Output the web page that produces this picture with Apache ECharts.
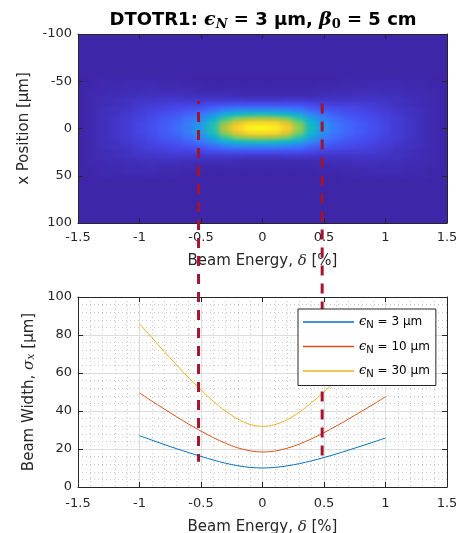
<!DOCTYPE html>
<html><head><meta charset="utf-8">
<script src="https://cdn.jsdelivr.net/npm/echarts/dist/echarts.min.js"></script>
<style>
html,body{margin:0;padding:0;background:#fff;}
#wrap{position:relative;width:459px;height:533px;overflow:hidden;background:#fff;}
#bg{position:absolute;left:78px;top:34px;width:369px;height:189px;background:#3E26A8;}
#heat{position:absolute;left:0;top:0;width:459px;height:533px;filter:url(#soft);clip-path:inset(34px 12px 310px 78px);}
#main{position:absolute;left:0;top:0;width:459px;height:533px;}
</style></head>
<body>
<svg width="0" height="0" style="position:absolute"><defs><filter id="soft" x="0" y="0" width="100%" height="100%" color-interpolation-filters="sRGB"><feGaussianBlur stdDeviation="3 1.5"/></filter></defs></svg>
<div id="wrap"><div id="bg"></div><div id="heat"></div><div id="main"></div></div>
<script>
// ---------- data ----------
const deltaTicks = [-1.5, -1, -0.5, 0, 0.5, 1, 1.5];
const legendNames = ['ϵN = 3 μm', 'ϵN = 10 μm', 'ϵN = 30 μm'];
const deltaLine = [-1,-0.9,-0.8,-0.7,-0.6,-0.5,-0.4,-0.3,-0.2,-0.1,0,0.1,0.2,0.3,0.4,0.5,0.6,0.7,0.8,0.9,1];
const sigma3  = [27.0,24.7,22.4,20.2,18.1,16.1,14.2,12.5,11.2,10.3,10.0,10.3,11.1,12.3,13.8,15.5,17.4,19.4,21.5,23.6,25.8];
const sigma10 = [49.5,45.2,41.1,37.0,33.1,29.4,26.0,23.0,20.6,19.0,18.4,18.9,20.4,22.6,25.4,28.6,32.1,35.8,39.6,43.5,47.5];
const sigma30 = [85.9,78.6,71.4,64.3,57.5,51.1,45.1,39.9,35.7,32.9,31.9,32.8,35.4,39.4,44.4,50.0,56.1,62.6,69.4,76.3,83.3];

// heatmap (image) : columns = beam energy delta, rows = x position
const heatDelta = [-1.5,-1.4,-1.3,-1.2,-1.1,-1,-0.9,-0.8,-0.7,-0.6,-0.5,-0.4,-0.3,-0.2,-0.1,0,0.1,0.2,0.3,0.4,0.5,0.6,0.7,0.8,0.9,1,1.1,1.2,1.3,1.4,1.5];
const heatX = [-50,-45,-40,-35,-30,-25,-20,-15,-10,-5,0,5,10,15,20,25,30,35,40,45,50];
const heatRows = [
 [0,0,1,1,1,1,1,1,1,0,0,0,0,0,0,0,0,0,0,0,0,0,1,1,1,1,1,1,1,0,0],
 [0,0,1,1,2,2,2,1,1,1,1,0,0,0,0,0,0,0,0,0,1,1,1,1,2,2,2,1,1,0,0],
 [0,1,1,2,2,2,3,2,2,2,1,1,1,1,1,1,1,1,1,1,1,2,2,2,3,2,2,2,1,1,0],
 [0,1,2,2,3,3,4,4,4,3,3,3,3,2,2,2,2,2,2,2,3,3,3,4,4,3,3,2,2,1,0],
 [0,1,2,3,4,5,5,6,6,6,6,6,6,6,5,5,5,6,6,5,5,5,5,5,5,5,4,3,2,1,0],
 [0,1,2,3,4,6,7,8,9,9,10,12,13,13,13,13,13,13,13,11,9,8,8,8,7,6,4,3,2,1,0],
 [0,1,3,4,5,7,9,10,12,14,16,20,25,27,27,27,27,26,23,18,15,13,11,10,9,7,5,4,3,1,0],
 [0,1,3,4,6,8,10,13,15,18,23,30,40,45,48,48,47,44,38,28,21,17,14,12,10,8,6,4,3,1,0],
 [0,1,3,5,7,9,12,15,18,23,29,41,56,66,71,72,71,65,53,38,27,21,17,14,12,9,7,5,3,1,0],
 [0,1,3,5,7,10,13,16,20,26,34,49,69,83,91,92,90,82,65,45,31,24,19,16,13,10,7,5,3,1,0],
 [0,1,3,5,7,10,13,17,21,27,36,52,74,90,99,100,98,88,70,48,33,25,20,16,13,10,7,5,3,1,0],
 [0,1,3,5,7,10,13,16,20,26,34,49,69,83,91,92,90,82,65,45,31,24,19,16,13,10,7,5,3,1,0],
 [0,1,3,5,7,9,12,15,18,23,29,41,56,66,71,72,71,65,53,38,27,21,17,14,12,9,7,5,3,1,0],
 [0,1,3,4,6,8,10,13,15,18,23,30,40,45,48,48,47,44,38,28,21,17,14,12,10,8,6,4,3,1,0],
 [0,1,3,4,5,7,9,10,12,14,16,20,25,27,27,27,27,26,23,18,15,13,11,10,9,7,5,4,3,1,0],
 [0,1,2,3,4,6,7,8,9,9,10,12,13,13,13,13,13,13,13,11,9,8,8,8,7,6,4,3,2,1,0],
 [0,1,2,3,4,5,5,6,6,6,6,6,6,6,5,5,5,6,6,5,5,5,5,5,5,5,4,3,2,1,0],
 [0,1,2,2,3,3,4,4,4,3,3,3,3,2,2,2,2,2,2,2,3,3,3,4,4,3,3,2,2,1,0],
 [0,1,1,2,2,2,3,2,2,2,1,1,1,1,1,1,1,1,1,1,1,2,2,2,3,2,2,2,1,1,0],
 [0,0,1,1,2,2,2,1,1,1,1,0,0,0,0,0,0,0,0,0,1,1,1,1,2,2,2,1,1,0,0],
 [0,0,1,1,1,1,1,1,1,0,0,0,0,0,0,0,0,0,0,0,0,0,1,1,1,1,1,1,1,0,0]
];
// dashed markers: delta position, upper end and lower end (in overlay units)
const dashDelta = [-0.52, 0.485];
const dashHigh = [203.2, 201.9];
const dashLow = [13.3, 13.8];
const overlayMax = 238.42;

// ---------- styling ----------
const FONT = 'DejaVu Sans';
const SERIF = 'DejaVu Serif';
const AX = '#262626';
const parula = ['#3E26A8','#4747EB','#3E6FFF','#2796EB','#08B5D0','#31C69F','#81CC59','#DCBD29','#FCCF30','#F9FB15'];
const lineColors = ['#0072BD', '#D95319', '#EDB120'];
const dashOffsets = [7, 0];

// ---------- heatmap layer ----------
const heatData = [];
heatRows.forEach((row, i) => row.forEach((v, j) => heatData.push([heatDelta[j], heatX[i], v])));
const dStep = heatDelta[1] - heatDelta[0];
const xStep = heatX[1] - heatX[0];
const heat = echarts.init(document.getElementById('heat'), null, {renderer: 'canvas'});
heat.setOption({
  animation: false,
  backgroundColor: 'rgba(0,0,0,0)',
  grid: {left: 78, top: 34, width: 369, height: 189, show: false, containLabel: false, outerBoundsMode: 'none'},
  xAxis: {type: 'value', min: -1.5, max: 1.5, show: false},
  yAxis: {type: 'value', min: -100, max: 100, inverse: true, show: false},
  visualMap: {type: 'continuous', show: false, min: 0, max: 100, dimension: 2, seriesIndex: 0, inRange: {color: parula}},
  series: [{
    type: 'custom', silent: true, clip: false, data: heatData,
    renderItem: function (params, api) {
      const p = api.coord([api.value(0), api.value(1)]);
      const sz = api.size([dStep, xStep]);
      const w = Math.abs(sz[0]), h = Math.abs(sz[1]);
      return {type: 'rect', shape: {x: p[0] - w / 2 - 0.5, y: p[1] - h / 2 - 0.5, width: w + 1, height: h + 1},
              style: {fill: api.visual('color')}};
    }
  }]
});

// ---------- main layer ----------
function xAx(grid, pos, labels, extra) {
  return Object.assign({
    type: 'value', gridIndex: grid, min: -1.5, max: 1.5, interval: 0.5, position: pos,
    axisLine: {show: true, onZero: false, lineStyle: {color: AX, width: 1}},
    axisTick: {show: true, inside: true, length: 5, lineStyle: {color: AX, width: 1}},
    axisLabel: {show: labels, color: AX, fontSize: 13, fontFamily: FONT, margin: 8, hideOverlap: false},
    splitLine: {show: false}
  }, extra || {});
}
function yAx(grid, pos, labels, min, max, interval, extra) {
  return Object.assign({
    type: 'value', gridIndex: grid, min: min, max: max, interval: interval, position: pos,
    axisLine: {show: true, onZero: false, lineStyle: {color: AX, width: 1}},
    axisTick: {show: true, inside: true, length: 5, lineStyle: {color: AX, width: 1}},
    axisLabel: {show: labels, color: AX, fontSize: 13, fontFamily: FONT, margin: 6, hideOverlap: false},
    splitLine: {show: false}
  }, extra || {});
}
const nameStyle = {color: AX, fontSize: 15, fontFamily: FONT,
  rich: {m: {fontFamily: SERIF, fontStyle: 'italic', fontSize: 15, color: AX},
         s: {fontFamily: SERIF, fontStyle: 'italic', fontSize: 11, color: AX, verticalAlign: 'bottom', lineHeight: 10}}};
const gridLine = {show: true, lineStyle: {color: '#dcdcdc', width: 1}};
const minorLine = {show: true, lineStyle: {color: '#c8c8c8', width: 1, type: [1, 3]}};

const series = [sigma3, sigma10, sigma30].map((arr, k) => ({
  name: legendNames[k], type: 'line', xAxisIndex: 2, yAxisIndex: 2,
  data: deltaLine.map((d, i) => [d, arr[i]]),
  symbol: 'none', showSymbol: false, smooth: 0.3, z: 2,
  lineStyle: {color: lineColors[k], width: 1}, itemStyle: {color: lineColors[k]}
}));
dashDelta.forEach((d, i) => series.push({
  type: 'line', xAxisIndex: 4, yAxisIndex: 4, silent: true, symbol: 'none', z: 5,
  data: [[d, dashHigh[i]], [d, dashLow[i]]],
  lineStyle: {color: '#A2142F', width: 3, type: [10, 8], dashOffset: dashOffsets[i], cap: 'butt'}
}));

const main = echarts.init(document.getElementById('main'), null, {renderer: 'canvas'});
main.setOption({
  animation: false,
  backgroundColor: 'rgba(0,0,0,0)',
  textStyle: {fontFamily: FONT},
  title: {
    text: '{b|DTOTR1: }{m|ϵ}{s|N}{b| = 3 μm, }{m|β}{z|0}{b| = 5 cm}',
    left: 263, top: 9, textAlign: 'center', padding: 0,
    textStyle: {rich: {
      b: {fontFamily: FONT, fontWeight: 'bold', fontSize: 18, color: '#000', lineHeight: 22},
      m: {fontFamily: SERIF, fontWeight: 'bold', fontStyle: 'italic', fontSize: 19, color: '#000', lineHeight: 22},
      s: {fontFamily: SERIF, fontWeight: 'bold', fontStyle: 'italic', fontSize: 13, color: '#000', verticalAlign: 'bottom', lineHeight: 12},
      z: {fontFamily: SERIF, fontWeight: 'bold', fontSize: 13, color: '#000', verticalAlign: 'bottom', lineHeight: 12}
    }}
  },
  grid: [
    {left: 78, top: 34, width: 369, height: 189, containLabel: false, outerBoundsMode: 'none'},
    {left: 78, top: 297, width: 369, height: 190, containLabel: false, outerBoundsMode: 'none'},
    {left: 78, top: 34, width: 369, height: 453, containLabel: false, outerBoundsMode: 'none'}
  ],
  xAxis: [
    xAx(0, 'bottom', true, {name: 'Beam Energy, {m|δ} [%]', nameLocation: 'middle', nameGap: 31, nameTextStyle: nameStyle}),
    xAx(0, 'top', false),
    xAx(1, 'bottom', true, {name: 'Beam Energy, {m|δ} [%]', nameLocation: 'middle', nameGap: 33, nameTextStyle: nameStyle,
      axisLabel: {show: true, color: AX, fontSize: 13, fontFamily: FONT, margin: 10, hideOverlap: false},
      splitLine: gridLine, minorTick: {show: false, splitNumber: 5}, minorSplitLine: minorLine}),
    xAx(1, 'top', false),
    {type: 'value', gridIndex: 2, min: -1.5, max: 1.5, show: false}
  ],
  yAxis: [
    yAx(0, 'left', true, -100, 100, 50, {inverse: true, name: 'x Position [μm]', nameLocation: 'middle', nameGap: 34, nameTextStyle: nameStyle}),
    yAx(0, 'right', false, -100, 100, 50, {inverse: true}),
    yAx(1, 'left', true, 0, 100, 20, {name: 'Beam Width, {m|σ}{s|x} [μm]', nameLocation: 'middle', nameGap: 34, nameTextStyle: nameStyle,
      splitLine: gridLine, minorTick: {show: false, splitNumber: 5}, minorSplitLine: minorLine}),
    yAx(1, 'right', false, 0, 100, 20),
    {type: 'value', gridIndex: 2, min: 0, max: overlayMax, show: false}
  ],
  legend: {
    show: true, orient: 'vertical', left: 298, top: 309, data: legendNames,
    icon: 'rect', itemWidth: 51, itemHeight: 1.5, itemGap: 9.5, padding: [6.5, 6, 6, 5],
    backgroundColor: '#ffffff', borderColor: AX, borderWidth: 1, borderRadius: 0, z: 10,
    selectedMode: false,
    formatter: function (n) { return '{e|ϵ}{s|N}{t|' + n.slice(2) + '}'; },
    textStyle: {color: '#000', fontFamily: FONT, fontSize: 12, rich: {
      e: {fontFamily: SERIF, fontStyle: 'italic', fontSize: 13, color: '#000', lineHeight: 17},
      s: {fontFamily: FONT, fontSize: 10, color: '#000', verticalAlign: 'bottom', lineHeight: 9},
      t: {fontFamily: FONT, fontSize: 12, color: '#000', lineHeight: 17}
    }}
  },
  series: series
});
</script>
</body></html>
